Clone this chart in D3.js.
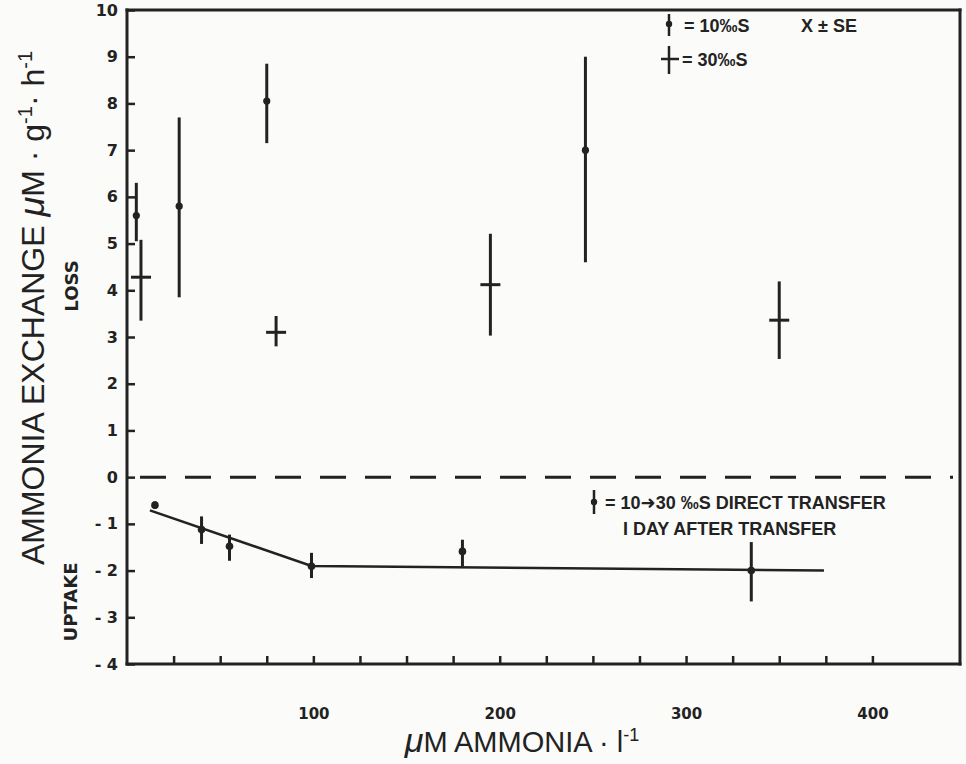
<!DOCTYPE html>
<html>
<head>
<meta charset="utf-8">
<script src="https://cdn.jsdelivr.net/npm/d3@7"></script>
<style>
  body { margin: 0; background: #fbfbf9; }
  svg { display: block; }
</style>
</head>
<body>
<script>
// chart size
var width = 966;
var height = 764;

// 10 o/oo S points (mean, with low / high end of the SE bar)
var conc10 = [5, 28, 75, 246];
var mean10 = [5.6, 5.8, 8.05, 7.0];
var low10 = [5.05, 3.85, 7.15, 4.6];
var high10 = [6.3, 7.7, 8.85, 9.0];

// 30 o/oo S points
var conc30 = [7.5, 80, 195, 350];
var mean30 = [4.28, 3.1, 4.12, 3.36];
var low30 = [3.35, 2.8, 3.03, 2.53];
var high30 = [5.08, 3.45, 5.21, 4.19];

// 10 -> 30 o/oo S direct transfer (uptake)
var concT = [15, 40, 55, 99, 180, 335];
var meanT = [-0.6, -1.12, -1.48, -1.91, -1.59, -2.0];
var lowT = [-0.68, -1.43, -1.79, -2.16, -1.91, -2.66];
var highT = [-0.52, -0.84, -1.23, -1.62, -1.34, -1.39];

// fitted line through the transfer points
var fitX = [12.3, 99, 374];
var fitY = [-0.71, -1.9, -2.0];

// ticks
var xTicks = d3.range(25, 401, 25);
var xLabels = [100, 200, 300, 400];
var yTicks = d3.range(-4, 11, 1);

var ink = "#222";

var x = d3.scaleLinear().domain([0, 447]).range([127, 960]);
var y = d3.scaleLinear().domain([-4, 10]).range([664, 10]);

var svg = d3.select("body").append("svg")
  .attr("width", width)
  .attr("height", height);

svg.append("rect")
  .attr("width", width)
  .attr("height", height)
  .attr("fill", "#fbfbf9");

// frame: four thin filled bands along the plot edges
var x0 = x(0), x1 = x(447), yTop = y(10), yBot = y(-4);
var bands = [
  { bx: x0 - 1.5, by: yTop - 1.5, bw: 3, bh: yBot - yTop + 3 },
  { bx: x1 - 1.5, by: yTop - 1.5, bw: 3, bh: yBot - yTop + 3 },
  { bx: x0 - 1.5, by: yTop - 1.5, bw: x1 - x0 + 3, bh: 3 },
  { bx: x0 - 1.5, by: yBot - 1.5, bw: x1 - x0 + 3, bh: 3 }
];
svg.selectAll("rect.frame")
  .data(bands)
  .enter()
  .append("rect")
  .attr("class", "frame")
  .attr("x", function(d) { return d.bx; })
  .attr("y", function(d) { return d.by; })
  .attr("width", function(d) { return d.bw; })
  .attr("height", function(d) { return d.bh; })
  .attr("fill", ink);

function styleAxis(g, size) {
  g.select(".domain").remove();
  g.selectAll(".tick line").attr("stroke", ink).attr("stroke-width", 2.5);
  g.selectAll(".tick text")
    .attr("fill", ink)
    .style("font-family", "DejaVu Sans")
    .style("font-weight", "bold")
    .style("font-size", size);
}

// x axis, ticks point inward
var xAxis = svg.append("g")
  .attr("transform", "translate(0," + yBot + ")")
  .call(d3.axisBottom(x)
    .tickValues(xTicks)
    .tickSizeInner(-8)
    .tickSizeOuter(0)
    .tickPadding(44)
    .tickFormat(function(d) { return xLabels.indexOf(d) >= 0 ? d : ""; }));
styleAxis(xAxis, "15px");

// y axis
var yAxis = svg.append("g")
  .attr("transform", "translate(" + x0 + ",0)")
  .call(d3.axisLeft(y)
    .tickValues(yTicks)
    .tickSizeInner(-8)
    .tickSizeOuter(0)
    .tickPadding(9)
    .tickFormat(function(d) { return d < 0 ? "- " + Math.abs(d) : d; }));
styleAxis(yAxis, "16px");

// zero line
svg.append("line")
  .attr("x1", 140)
  .attr("x2", 953)
  .attr("y1", y(0))
  .attr("y2", y(0))
  .attr("stroke", ink)
  .attr("stroke-width", 3)
  .attr("stroke-dasharray", "26,19");

// fitted line
var fit = fitX.map(function(d, i) { return [d, fitY[i]]; });
svg.append("path")
  .datum(fit)
  .attr("d", d3.line().x(function(d) { return x(d[0]); }).y(function(d) { return y(d[1]); }))
  .attr("fill", "none")
  .attr("stroke", ink)
  .attr("stroke-width", 2.5);

function bars(cs, ms, lo, hi, cls) {
  var pts = cs.map(function(c, i) { return { c: c, m: ms[i], lo: lo[i], hi: hi[i] }; });
  var g = svg.selectAll("g." + cls)
    .data(pts)
    .enter()
    .append("g")
    .attr("class", cls);
  g.append("line")
    .attr("x1", function(d) { return x(d.c); })
    .attr("x2", function(d) { return x(d.c); })
    .attr("y1", function(d) { return y(d.lo); })
    .attr("y2", function(d) { return y(d.hi); })
    .attr("stroke", ink)
    .attr("stroke-width", 3);
  return g;
}

// 10 o/oo S: dot on the bar
bars(conc10, mean10, low10, high10, "s10")
  .append("circle")
  .attr("cx", function(d) { return x(d.c); })
  .attr("cy", function(d) { return y(d.m); })
  .attr("r", 3.6)
  .attr("fill", ink);

// 30 o/oo S: cross bar
bars(conc30, mean30, low30, high30, "s30")
  .append("line")
  .attr("x1", function(d) { return x(d.c) - 10; })
  .attr("x2", function(d) { return x(d.c) + 10; })
  .attr("y1", function(d) { return y(d.m); })
  .attr("y2", function(d) { return y(d.m); })
  .attr("stroke", ink)
  .attr("stroke-width", 3);

// transfer points
bars(concT, meanT, lowT, highT, "st")
  .append("circle")
  .attr("cx", function(d) { return x(d.c); })
  .attr("cy", function(d) { return y(d.m); })
  .attr("r", 3.8)
  .attr("fill", ink);

// legends
var leg = svg.append("g")
  .style("font-family", "Liberation Sans")
  .style("font-weight", "bold")
  .attr("fill", ink);

leg.append("line").attr("x1", 669).attr("x2", 669).attr("y1", 14).attr("y2", 36)
  .attr("stroke", ink).attr("stroke-width", 2.5);
leg.append("circle").attr("cx", 669).attr("cy", 24).attr("r", 3.2).attr("fill", ink);
leg.append("text").attr("x", 684).attr("y", 32).style("font-size", "18px")
  .text("= 10‰S");
leg.append("text").attr("x", 801).attr("y", 32).style("font-size", "18px")
  .text("X ± SE");

leg.append("line").attr("x1", 669).attr("x2", 669).attr("y1", 46).attr("y2", 74)
  .attr("stroke", ink).attr("stroke-width", 2.5);
leg.append("line").attr("x1", 661).attr("x2", 679).attr("y1", 59).attr("y2", 59)
  .attr("stroke", ink).attr("stroke-width", 2.5);
leg.append("text").attr("x", 682).attr("y", 66).style("font-size", "18px")
  .text("= 30‰S");

leg.append("line").attr("x1", 594).attr("x2", 594).attr("y1", 490).attr("y2", 514)
  .attr("stroke", ink).attr("stroke-width", 2.5);
leg.append("circle").attr("cx", 594).attr("cy", 502).attr("r", 3.2).attr("fill", ink);
var tl = leg.append("text").attr("x", 605).attr("y", 509).style("font-size", "18px");
tl.append("tspan").text("= 10");
tl.append("tspan").style("font-family", "DejaVu Sans").text("➜");
tl.append("tspan").text("30 ‰S  DIRECT TRANSFER");
leg.append("text").attr("x", 623).attr("y", 535).style("font-size", "18px")
  .text("I DAY AFTER TRANSFER");

// side labels
svg.append("text")
  .attr("transform", "translate(78,286) rotate(-90)")
  .attr("text-anchor", "middle")
  .attr("fill", ink)
  .style("font-family", "DejaVu Sans")
  .style("font-weight", "bold")
  .style("font-size", "18px")
  .text("LOSS");

svg.append("text")
  .attr("transform", "translate(77,602) rotate(-90)")
  .attr("text-anchor", "middle")
  .attr("fill", ink)
  .style("font-family", "DejaVu Sans")
  .style("font-weight", "bold")
  .style("font-size", "18px")
  .text("UPTAKE");

// y title
var yt = svg.append("text")
  .attr("transform", "translate(44,308) rotate(-90)")
  .attr("text-anchor", "middle")
  .attr("fill", ink)
  .style("font-family", "Liberation Sans")
  .style("font-size", "32px");
yt.append("tspan").text("AMMONIA EXCHANGE  ");
yt.append("tspan").style("font-style", "italic").style("font-size", "36px").text("μ");
yt.append("tspan").text("M · g");
yt.append("tspan").attr("dy", -12).style("font-size", "20px").text("-1");
yt.append("tspan").attr("dy", 12).text("· h");
yt.append("tspan").attr("dy", -12).style("font-size", "20px").text("-1");

// x title
var xt = svg.append("text")
  .attr("x", 522)
  .attr("y", 752)
  .attr("text-anchor", "middle")
  .attr("fill", ink)
  .style("font-family", "Liberation Sans")
  .style("font-size", "29px");
xt.append("tspan").style("font-style", "italic").style("font-size", "34px").text("μ");
xt.append("tspan").text("M AMMONIA · l");
xt.append("tspan").attr("dy", -11).style("font-size", "18px").text("-1");
</script>
</body>
</html>
